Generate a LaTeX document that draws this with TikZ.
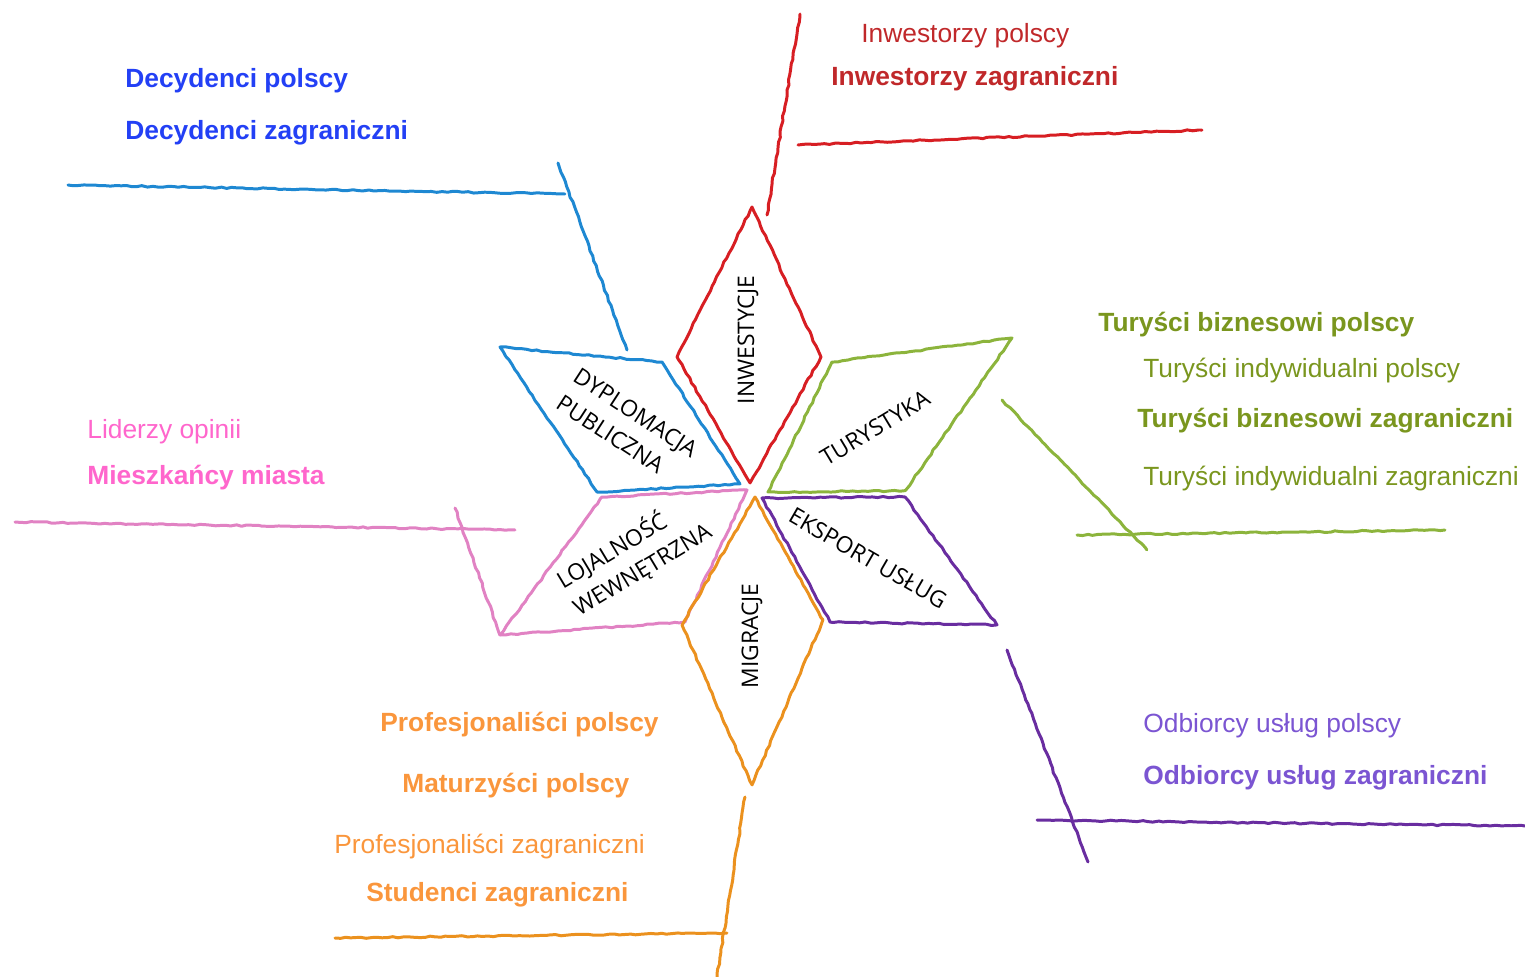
\documentclass[tikz,border=0pt]{standalone}
\usepackage{fontspec}
\setmainfont{Liberation Sans}
\newfontfamily\starfont{Open Sans}
\usetikzlibrary{decorations.pathmorphing}

\definecolor{decblue}{RGB}{35,64,245}
\definecolor{lineblue}{RGB}{30,136,210}
\definecolor{invred}{RGB}{192,40,42}
\definecolor{linered}{RGB}{215,30,35}
\definecolor{turgreen}{RGB}{122,150,30}
\definecolor{linegreen}{RGB}{140,180,60}
\definecolor{lojpink}{RGB}{255,102,204}
\definecolor{linepink}{RGB}{225,130,195}
\definecolor{migorange}{RGB}{250,150,60}
\definecolor{lineorange}{RGB}{235,145,30}
\definecolor{ekspurple}{RGB}{123,85,210}
\definecolor{linepurple}{RGB}{105,45,160}

\begin{document}
\begin{tikzpicture}
  [x=0.02cm,y=-0.02cm,
   every node/.style={inner sep=0pt},
   crayon/.style={line width=1.7pt,line cap=round,line join=round,
     decorate,decoration={random steps,segment length=3pt,amplitude=0.4pt}},
   group/.style={anchor=base west,font=\fontsize{15}{18}\selectfont},
   groupbold/.style={anchor=base west,font=\fontsize{15}{18}\selectfont\bfseries},
   field/.style={font=\starfont\fontsize{13}{18}\selectfont,align=left}]
  \useasboundingbox (0,0) rectangle (1525,977);

  % star
  \coordinate (inwT) at (752,207);
  \coordinate (inwR) at (821,357);
  \coordinate (inwB) at (750,483);
  \coordinate (inwL) at (677,357);
  \coordinate (dypTL) at (500,347);
  \coordinate (dypTR) at (662,362);
  \coordinate (dypBR) at (740,484);
  \coordinate (dypBL) at (597,492);
  \coordinate (turBL) at (768,492);
  \coordinate (turTL) at (832,362);
  \coordinate (turTR) at (1012,338);
  \coordinate (turBR) at (905,491);
  \coordinate (eksTL) at (762,498);
  \coordinate (eksTR) at (905,497);
  \coordinate (eksBR) at (997,625);
  \coordinate (eksBL) at (830,622);
  \coordinate (lojTL) at (602,497);
  \coordinate (lojTR) at (747,490);
  \coordinate (lojBR) at (685,622);
  \coordinate (lojBL) at (500,635);
  \coordinate (migT) at (755,497);
  \coordinate (migR) at (823,620);
  \coordinate (migB) at (752,785);
  \coordinate (migL) at (682,625);

  \draw[crayon,linered] (inwT) -- (inwR) -- (inwB) -- (inwL) -- cycle;
  \draw[crayon,lineblue] (dypTL) -- (dypTR) -- (dypBR) -- (dypBL) -- cycle;
  \draw[crayon,linegreen] (turBL) -- (turTL) -- (turTR) -- (turBR) -- cycle;
  \draw[crayon,linepurple] (eksTL) -- (eksTR) -- (eksBR) -- (eksBL) -- cycle;
  \draw[crayon,linepink] (lojTL) -- (lojTR) -- (lojBR) -- (lojBL) -- cycle;
  \draw[crayon,lineorange] (migT) -- (migR) -- (migB) -- (migL) -- cycle;

  \node[field,rotate=90] (inw) at (748,340) {INWESTYCJE};
  \node[field,rotate=-33] (dyp) at (627,426) {DYPLOMACJA\\PUBLICZNA};
  \node[field,rotate=31] (tur) at (875,428) {TURYSTYKA};
  \node[field,rotate=-30] (eks) at (868,558) {EKSPORT USŁUG};
  \node[field,rotate=31] (loj) at (634,556) {LOJALNOŚĆ\\WEWNĘTRZNA};
  \node[field,rotate=90] (mig) at (752,636) {MIGRACJE};

  % arms
  \coordinate (redA) at (767,215);
  \coordinate (redB) at (800,14);
  \coordinate (redC) at (798,145);
  \coordinate (redD) at (1202,130);
  \coordinate (blueA) at (627,350);
  \coordinate (blueB) at (558,163);
  \coordinate (blueC) at (68,185);
  \coordinate (blueD) at (565,194);
  \coordinate (greenA) at (1002,400);
  \coordinate (greenB) at (1147,550);
  \coordinate (greenC) at (1077,535);
  \coordinate (greenD) at (1445,530);
  \coordinate (purpleA) at (1007,650);
  \coordinate (purpleB) at (1088,862);
  \coordinate (purpleC) at (1037,820);
  \coordinate (purpleD) at (1525,826);
  \coordinate (pinkA) at (455,508);
  \coordinate (pinkC) at (15,522);
  \coordinate (pinkD) at (515,530);
  \coordinate (orangeA) at (745,797);
  \coordinate (orangeB) at (717,977);
  \coordinate (orangeC) at (335,938);
  \coordinate (orangeD) at (727,933);

  \foreach \from/\to in {redA/redB,redC/redD}
    \draw[crayon,linered] (\from) -- (\to);
  \foreach \from/\to in {blueA/blueB,blueC/blueD}
    \draw[crayon,lineblue] (\from) -- (\to);
  \foreach \from/\to in {greenA/greenB,greenC/greenD}
    \draw[crayon,linegreen] (\from) -- (\to);
  \foreach \from/\to in {purpleA/purpleB,purpleC/purpleD}
    \draw[crayon,linepurple] (\from) -- (\to);
  \foreach \from/\to in {pinkA/lojBL,pinkC/pinkD}
    \draw[crayon,linepink] (\from) -- (\to);
  \foreach \from/\to in {orangeA/orangeB,orangeC/orangeD}
    \draw[crayon,lineorange] (\from) -- (\to);

  % groups
  \node[groupbold,text=decblue] (decPl) at (125,87) {Decydenci polscy};
  \node[groupbold,text=decblue] (decZag) at (125,139) {Decydenci zagraniczni};
  \node[group,text=invred] (invPl) at (861,42) {Inwestorzy polscy};
  \node[groupbold,text=invred] (invZag) at (831,85) {Inwestorzy zagraniczni};
  \node[groupbold,text=turgreen] (turBizPl) at (1098,331) {Turyści biznesowi polscy};
  \node[group,text=turgreen] (turIndPl) at (1143,377) {Turyści indywidualni polscy};
  \node[groupbold,text=turgreen] (turBizZag) at (1137,427) {Turyści biznesowi zagraniczni};
  \node[group,text=turgreen] (turIndZag) at (1143,485) {Turyści indywidualni zagraniczni};
  \node[group,text=lojpink] (lidOp) at (87,438) {Liderzy opinii};
  \node[groupbold,text=lojpink] (mieszk) at (87,484) {Mieszkańcy miasta};
  \node[groupbold,text=migorange] (profPl) at (380,731) {Profesjonaliści polscy};
  \node[groupbold,text=migorange] (matPl) at (402,792) {Maturzyści polscy};
  \node[group,text=migorange] (profZag) at (334,853) {Profesjonaliści zagraniczni};
  \node[groupbold,text=migorange] (studZag) at (366,901) {Studenci zagraniczni};
  \node[group,text=ekspurple] (odbPl) at (1143,732) {Odbiorcy usług polscy};
  \node[groupbold,text=ekspurple] (odbZag) at (1143,784) {Odbiorcy usług zagraniczni};

\end{tikzpicture}
\end{document}
